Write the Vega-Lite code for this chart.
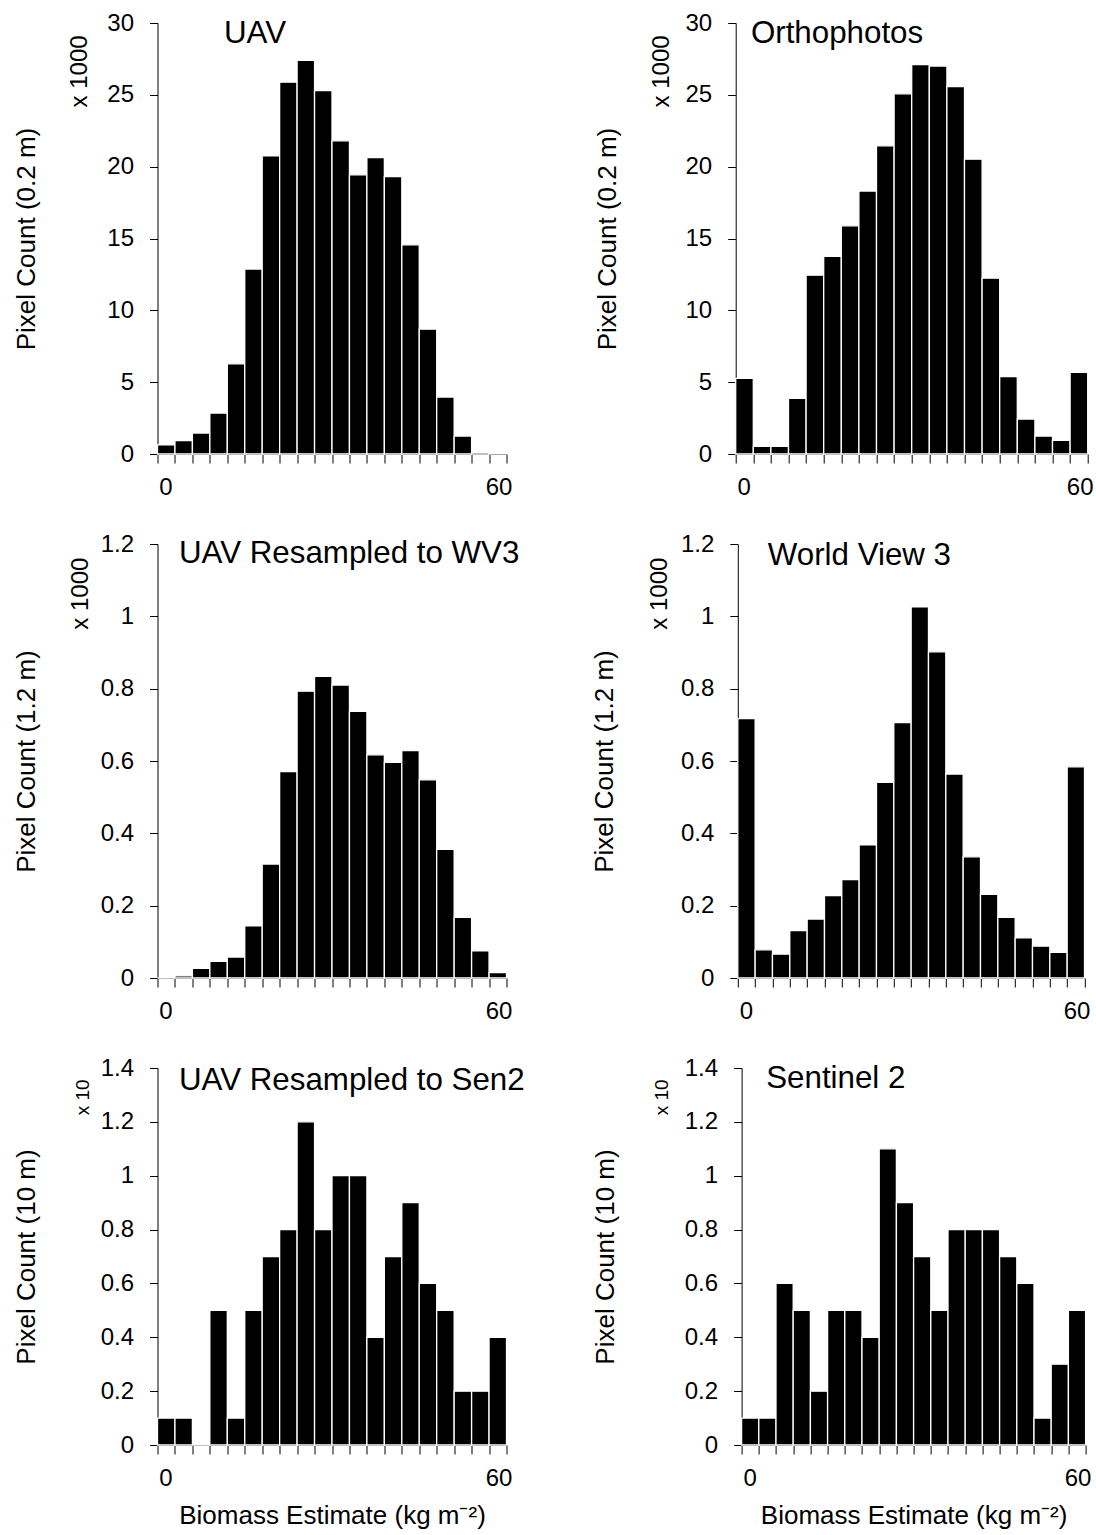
{
  "$schema": "https://vega.github.io/schema/vega-lite/v6.json",
  "padding": {"left": 12.5, "top": 11, "right": 4, "bottom": 7},
  "datasets": {
    "uav": [
      {"b0": 0, "b1": 3, "n": 0.63}, {"b0": 3, "b1": 6, "n": 0.93}, {"b0": 6, "b1": 9, "n": 1.46}, {"b0": 9, "b1": 12, "n": 2.85},
      {"b0": 12, "b1": 15, "n": 6.28}, {"b0": 15, "b1": 18, "n": 12.87}, {"b0": 18, "b1": 21, "n": 20.75}, {"b0": 21, "b1": 24, "n": 25.88},
      {"b0": 24, "b1": 27, "n": 27.4}, {"b0": 27, "b1": 30, "n": 25.3}, {"b0": 30, "b1": 33, "n": 21.8}, {"b0": 33, "b1": 36, "n": 19.43},
      {"b0": 36, "b1": 39, "n": 20.63}, {"b0": 39, "b1": 42, "n": 19.31}, {"b0": 42, "b1": 45, "n": 14.56}, {"b0": 45, "b1": 48, "n": 8.69},
      {"b0": 48, "b1": 51, "n": 3.96}, {"b0": 51, "b1": 54, "n": 1.25}, {"b0": 54, "b1": 57, "n": 0.12}, {"b0": 57, "b1": 60, "n": 0.03}
    ],
    "ortho": [
      {"b0": 0, "b1": 3, "n": 5.27}, {"b0": 3, "b1": 6, "n": 0.53}, {"b0": 6, "b1": 9, "n": 0.53}, {"b0": 9, "b1": 12, "n": 3.87},
      {"b0": 12, "b1": 15, "n": 12.45}, {"b0": 15, "b1": 18, "n": 13.75}, {"b0": 18, "b1": 21, "n": 15.88}, {"b0": 21, "b1": 24, "n": 18.3},
      {"b0": 24, "b1": 27, "n": 21.45}, {"b0": 27, "b1": 30, "n": 25.07}, {"b0": 30, "b1": 33, "n": 27.1}, {"b0": 33, "b1": 36, "n": 27.0},
      {"b0": 36, "b1": 39, "n": 25.57}, {"b0": 39, "b1": 42, "n": 20.52}, {"b0": 42, "b1": 45, "n": 12.24}, {"b0": 45, "b1": 48, "n": 5.38},
      {"b0": 48, "b1": 51, "n": 2.43}, {"b0": 51, "b1": 54, "n": 1.25}, {"b0": 54, "b1": 57, "n": 0.95}, {"b0": 57, "b1": 60, "n": 5.68}
    ],
    "uavwv3": [
      {"b0": 0, "b1": 3, "n": 0.0}, {"b0": 3, "b1": 6, "n": 0.006}, {"b0": 6, "b1": 9, "n": 0.027}, {"b0": 9, "b1": 12, "n": 0.046},
      {"b0": 12, "b1": 15, "n": 0.058}, {"b0": 15, "b1": 18, "n": 0.144}, {"b0": 18, "b1": 21, "n": 0.315}, {"b0": 21, "b1": 24, "n": 0.571},
      {"b0": 24, "b1": 27, "n": 0.793}, {"b0": 27, "b1": 30, "n": 0.834}, {"b0": 30, "b1": 33, "n": 0.81}, {"b0": 33, "b1": 36, "n": 0.737},
      {"b0": 36, "b1": 39, "n": 0.617}, {"b0": 39, "b1": 42, "n": 0.596}, {"b0": 42, "b1": 45, "n": 0.629}, {"b0": 45, "b1": 48, "n": 0.548},
      {"b0": 48, "b1": 51, "n": 0.356}, {"b0": 51, "b1": 54, "n": 0.168}, {"b0": 54, "b1": 57, "n": 0.075}, {"b0": 57, "b1": 60, "n": 0.015}
    ],
    "wv3": [
      {"b0": 0, "b1": 3, "n": 0.717}, {"b0": 3, "b1": 6, "n": 0.078}, {"b0": 6, "b1": 9, "n": 0.066}, {"b0": 9, "b1": 12, "n": 0.131},
      {"b0": 12, "b1": 15, "n": 0.163}, {"b0": 15, "b1": 18, "n": 0.228}, {"b0": 18, "b1": 21, "n": 0.272}, {"b0": 21, "b1": 24, "n": 0.368},
      {"b0": 24, "b1": 27, "n": 0.541}, {"b0": 27, "b1": 30, "n": 0.706}, {"b0": 30, "b1": 33, "n": 1.026}, {"b0": 33, "b1": 36, "n": 0.902},
      {"b0": 36, "b1": 39, "n": 0.564}, {"b0": 39, "b1": 42, "n": 0.335}, {"b0": 42, "b1": 45, "n": 0.231}, {"b0": 45, "b1": 48, "n": 0.168},
      {"b0": 48, "b1": 51, "n": 0.111}, {"b0": 51, "b1": 54, "n": 0.088}, {"b0": 54, "b1": 57, "n": 0.071}, {"b0": 57, "b1": 60, "n": 0.584}
    ],
    "uavsen2": [
      {"b0": 0, "b1": 3, "n": 0.1}, {"b0": 3, "b1": 6, "n": 0.1}, {"b0": 6, "b1": 9, "n": 0}, {"b0": 9, "b1": 12, "n": 0.5},
      {"b0": 12, "b1": 15, "n": 0.1}, {"b0": 15, "b1": 18, "n": 0.5}, {"b0": 18, "b1": 21, "n": 0.7}, {"b0": 21, "b1": 24, "n": 0.8},
      {"b0": 24, "b1": 27, "n": 1.2}, {"b0": 27, "b1": 30, "n": 0.8}, {"b0": 30, "b1": 33, "n": 1.0}, {"b0": 33, "b1": 36, "n": 1.0},
      {"b0": 36, "b1": 39, "n": 0.4}, {"b0": 39, "b1": 42, "n": 0.7}, {"b0": 42, "b1": 45, "n": 0.9}, {"b0": 45, "b1": 48, "n": 0.6},
      {"b0": 48, "b1": 51, "n": 0.5}, {"b0": 51, "b1": 54, "n": 0.2}, {"b0": 54, "b1": 57, "n": 0.2}, {"b0": 57, "b1": 60, "n": 0.4}
    ],
    "sen2": [
      {"b0": 0, "b1": 3, "n": 0.1}, {"b0": 3, "b1": 6, "n": 0.1}, {"b0": 6, "b1": 9, "n": 0.6}, {"b0": 9, "b1": 12, "n": 0.5},
      {"b0": 12, "b1": 15, "n": 0.2}, {"b0": 15, "b1": 18, "n": 0.5}, {"b0": 18, "b1": 21, "n": 0.5}, {"b0": 21, "b1": 24, "n": 0.4},
      {"b0": 24, "b1": 27, "n": 1.1}, {"b0": 27, "b1": 30, "n": 0.9}, {"b0": 30, "b1": 33, "n": 0.7}, {"b0": 33, "b1": 36, "n": 0.5},
      {"b0": 36, "b1": 39, "n": 0.8}, {"b0": 39, "b1": 42, "n": 0.8}, {"b0": 42, "b1": 45, "n": 0.8}, {"b0": 45, "b1": 48, "n": 0.7},
      {"b0": 48, "b1": 51, "n": 0.6}, {"b0": 51, "b1": 54, "n": 0.1}, {"b0": 54, "b1": 57, "n": 0.3}, {"b0": 57, "b1": 60, "n": 0.5}
    ],
    "info_uav": [{"title": "UAV", "mult": "x 1000"}],
    "info_ortho": [{"title": "Orthophotos", "mult": "x 1000"}],
    "info_uavwv3": [{"title": "UAV Resampled to WV3", "mult": "x 1000"}],
    "info_wv3": [{"title": "World View 3", "mult": "x 1000"}],
    "info_uavsen2": [{"title": "UAV Resampled to Sen2", "mult": "x 10"}],
    "info_sen2": [{"title": "Sentinel 2", "mult": "x 10"}]
  },
  "columns": 1,
  "align": "each",
  "spacing": 33,
  "concat": [
    {
      "spacing": 81.2,
      "hconcat": [
        {
          "width": 349, "height": 431,
          "layer": [
            {"data": {"name": "uav"}, "mark": {"type": "bar", "fill": "black", "stroke": "white", "strokeWidth": 1.3},
             "encoding": {
               "x": {"field": "b0", "type": "quantitative", "scale": {"domain": [0, 60], "nice": false, "zero": false},
                     "axis": {"values": [0,3,6,9,12,15,18,21,24,27,30,33,36,39,42,45,48,51,54,57,60], "tickCount": 40, "labelExpr": "datum.value == 0 || datum.value == 60 ? datum.label : ''", "labelFlush": false, "labelOverlap": false, "labelAlign": "center", "labelOffset": {"condition": {"test": "datum.value == 0", "value": 8}, "value": -8}, "labelPadding": 12, "tickSize": 9, "title": null}},
               "x2": {"field": "b1"},
               "y": {"field": "n", "type": "quantitative", "scale": {"domain": [0, 30], "nice": false},
                     "axis": {"values": [0,5,10,15,20,25,30], "tickCount": 20, "format": "~g", "title": "Pixel Count (0.2 m)", "titleX": -131.5, "titleBaseline": "middle", "labelPadding": 16, "tickSize": 8}},
               "y2": {"datum": 0}
             }},
            {"data": {"name": "info_uav"}, "mark": {"type": "text", "align": "left", "baseline": "middle", "fontSize": 31.3},
             "encoding": {"x": {"datum": 11.43, "type": "quantitative"}, "y": {"datum": 29.25, "type": "quantitative"}, "text": {"field": "title"}}},
            {"data": {"name": "info_uav"}, "mark": {"type": "text", "align": "center", "baseline": "middle", "angle": 270, "fontSize": 24},
             "encoding": {"x": {"datum": -13.24, "type": "quantitative"}, "y": {"datum": 26.63, "type": "quantitative"}, "text": {"field": "mult"}}}
          ]
        },
        {
          "width": 352, "height": 431,
          "layer": [
            {"data": {"name": "ortho"}, "mark": {"type": "bar", "fill": "black", "stroke": "white", "strokeWidth": 1.3},
             "encoding": {
               "x": {"field": "b0", "type": "quantitative", "scale": {"domain": [0, 60], "nice": false, "zero": false},
                     "axis": {"values": [0,3,6,9,12,15,18,21,24,27,30,33,36,39,42,45,48,51,54,57,60], "tickCount": 40, "labelExpr": "datum.value == 0 || datum.value == 60 ? datum.label : ''", "labelFlush": false, "labelOverlap": false, "labelAlign": "center", "labelOffset": {"condition": {"test": "datum.value == 0", "value": 8}, "value": -8}, "labelPadding": 12, "tickSize": 9, "title": null}},
               "x2": {"field": "b1"},
               "y": {"field": "n", "type": "quantitative", "scale": {"domain": [0, 30], "nice": false},
                     "axis": {"values": [0,5,10,15,20,25,30], "tickCount": 20, "format": "~g", "title": "Pixel Count (0.2 m)", "titleX": -128.5, "titleBaseline": "middle", "labelPadding": 16, "tickSize": 8}},
               "y2": {"datum": 0}
             }},
            {"data": {"name": "info_ortho"}, "mark": {"type": "text", "align": "left", "baseline": "middle", "fontSize": 31.3},
             "encoding": {"x": {"datum": 2.59, "type": "quantitative"}, "y": {"datum": 29.25, "type": "quantitative"}, "text": {"field": "title"}}},
            {"data": {"name": "info_ortho"}, "mark": {"type": "text", "align": "center", "baseline": "middle", "angle": 270, "fontSize": 24},
             "encoding": {"x": {"datum": -12.61, "type": "quantitative"}, "y": {"datum": 26.63, "type": "quantitative"}, "text": {"field": "mult"}}}
          ]
        }
      ]
    },
    {
      "spacing": 71.3,
      "hconcat": [
        {
          "width": 349, "height": 434,
          "layer": [
            {"data": {"name": "uavwv3"}, "mark": {"type": "bar", "fill": "black", "stroke": "white", "strokeWidth": 1.3},
             "encoding": {
               "x": {"field": "b0", "type": "quantitative", "scale": {"domain": [0, 60], "nice": false, "zero": false},
                     "axis": {"values": [0,3,6,9,12,15,18,21,24,27,30,33,36,39,42,45,48,51,54,57,60], "tickCount": 40, "labelExpr": "datum.value == 0 || datum.value == 60 ? datum.label : ''", "labelFlush": false, "labelOverlap": false, "labelAlign": "center", "labelOffset": {"condition": {"test": "datum.value == 0", "value": 8}, "value": -8}, "labelPadding": 12, "tickSize": 9, "title": null}},
               "x2": {"field": "b1"},
               "y": {"field": "n", "type": "quantitative", "scale": {"domain": [0, 1.2], "nice": false},
                     "axis": {"values": [0,0.2,0.4,0.6,0.8,1,1.2], "tickCount": 20, "format": "~g", "title": "Pixel Count (1.2 m)", "titleX": -131.5, "titleBaseline": "middle", "labelPadding": 16, "tickSize": 8}},
               "y2": {"datum": 0}
             }},
            {"data": {"name": "info_uavwv3"}, "mark": {"type": "text", "align": "left", "baseline": "middle", "fontSize": 31.3},
             "encoding": {"x": {"datum": 3.7, "type": "quantitative"}, "y": {"datum": 1.171, "type": "quantitative"}, "text": {"field": "title"}}},
            {"data": {"name": "info_uavwv3"}, "mark": {"type": "text", "align": "center", "baseline": "middle", "angle": 270, "fontSize": 24},
             "encoding": {"x": {"datum": -13.15, "type": "quantitative"}, "y": {"datum": 1.0626, "type": "quantitative"}, "text": {"field": "mult"}}}
          ]
        },
        {
          "width": 346.7, "height": 434,
          "layer": [
            {"data": {"name": "wv3"}, "mark": {"type": "bar", "fill": "black", "stroke": "white", "strokeWidth": 1.3},
             "encoding": {
               "x": {"field": "b0", "type": "quantitative", "scale": {"domain": [0, 60], "nice": false, "zero": false},
                     "axis": {"values": [0,3,6,9,12,15,18,21,24,27,30,33,36,39,42,45,48,51,54,57,60], "tickCount": 40, "labelExpr": "datum.value == 0 || datum.value == 60 ? datum.label : ''", "labelFlush": false, "labelOverlap": false, "labelAlign": "center", "labelOffset": {"condition": {"test": "datum.value == 0", "value": 8}, "value": -8}, "labelPadding": 12, "tickSize": 9, "title": null}},
               "x2": {"field": "b1"},
               "y": {"field": "n", "type": "quantitative", "scale": {"domain": [0, 1.2], "nice": false},
                     "axis": {"values": [0,0.2,0.4,0.6,0.8,1,1.2], "tickCount": 20, "format": "~g", "title": "Pixel Count (1.2 m)", "titleX": -133.8, "titleBaseline": "middle", "labelPadding": 16, "tickSize": 8}},
               "y2": {"datum": 0}
             }},
            {"data": {"name": "info_wv3"}, "mark": {"type": "text", "align": "left", "baseline": "middle", "fontSize": 31.3},
             "encoding": {"x": {"datum": 5.19, "type": "quantitative"}, "y": {"datum": 1.168, "type": "quantitative"}, "text": {"field": "title"}}},
            {"data": {"name": "info_wv3"}, "mark": {"type": "text", "align": "center", "baseline": "middle", "angle": 270, "fontSize": 24},
             "encoding": {"x": {"datum": -13.5, "type": "quantitative"}, "y": {"datum": 1.0626, "type": "quantitative"}, "text": {"field": "mult"}}}
          ]
        }
      ]
    },
    {
      "spacing": 66.1,
      "hconcat": [
        {
          "width": 349, "height": 377,
          "layer": [
            {"data": {"name": "uavsen2"}, "mark": {"type": "bar", "fill": "black", "stroke": "white", "strokeWidth": 1.3},
             "encoding": {
               "x": {"field": "b0", "type": "quantitative", "scale": {"domain": [0, 60], "nice": false, "zero": false},
                     "axis": {"values": [0,3,6,9,12,15,18,21,24,27,30,33,36,39,42,45,48,51,54,57,60], "tickCount": 40, "labelExpr": "datum.value == 0 || datum.value == 60 ? datum.label : ''", "labelFlush": false, "labelOverlap": false, "labelAlign": "center", "labelOffset": {"condition": {"test": "datum.value == 0", "value": 8}, "value": -8}, "labelPadding": 12, "tickSize": 9, "title": "Biomass Estimate (kg m⁻²)", "titleY": 70, "titleBaseline": "middle"}},
               "x2": {"field": "b1"},
               "y": {"field": "n", "type": "quantitative", "scale": {"domain": [0, 1.4], "nice": false},
                     "axis": {"values": [0,0.2,0.4,0.6,0.8,1,1.2,1.4], "tickCount": 20, "format": "~g", "title": "Pixel Count (10 m)", "titleX": -131.5, "titleBaseline": "middle", "labelPadding": 16, "tickSize": 8}},
               "y2": {"datum": 0}
             }},
            {"data": {"name": "info_uavsen2"}, "mark": {"type": "text", "align": "left", "baseline": "middle", "fontSize": 31.3},
             "encoding": {"x": {"datum": 3.7, "type": "quantitative"}, "y": {"datum": 1.352, "type": "quantitative"}, "text": {"field": "title"}}},
            {"data": {"name": "info_uavsen2"}, "mark": {"type": "text", "align": "center", "baseline": "middle", "angle": 270, "fontSize": 19},
             "encoding": {"x": {"datum": -12.89, "type": "quantitative"}, "y": {"datum": 1.291, "type": "quantitative"}, "text": {"field": "mult"}}}
          ]
        },
        {
          "width": 344, "height": 377,
          "layer": [
            {"data": {"name": "sen2"}, "mark": {"type": "bar", "fill": "black", "stroke": "white", "strokeWidth": 1.3},
             "encoding": {
               "x": {"field": "b0", "type": "quantitative", "scale": {"domain": [0, 60], "nice": false, "zero": false},
                     "axis": {"values": [0,3,6,9,12,15,18,21,24,27,30,33,36,39,42,45,48,51,54,57,60], "tickCount": 40, "labelExpr": "datum.value == 0 || datum.value == 60 ? datum.label : ''", "labelFlush": false, "labelOverlap": false, "labelAlign": "center", "labelOffset": {"condition": {"test": "datum.value == 0", "value": 8}, "value": -8}, "labelPadding": 12, "tickSize": 9, "title": "Biomass Estimate (kg m⁻²)", "titleY": 70, "titleBaseline": "middle"}},
               "x2": {"field": "b1"},
               "y": {"field": "n", "type": "quantitative", "scale": {"domain": [0, 1.4], "nice": false},
                     "axis": {"values": [0,0.2,0.4,0.6,0.8,1,1.2,1.4], "tickCount": 20, "format": "~g", "title": "Pixel Count (10 m)", "titleX": -136.5, "titleBaseline": "middle", "labelPadding": 16, "tickSize": 8}},
               "y2": {"datum": 0}
             }},
            {"data": {"name": "info_sen2"}, "mark": {"type": "text", "align": "left", "baseline": "middle", "fontSize": 31.3},
             "encoding": {"x": {"datum": 4.29, "type": "quantitative"}, "y": {"datum": 1.359, "type": "quantitative"}, "text": {"field": "title"}}},
            {"data": {"name": "info_sen2"}, "mark": {"type": "text", "align": "center", "baseline": "middle", "angle": 270, "fontSize": 19},
             "encoding": {"x": {"datum": -13.87, "type": "quantitative"}, "y": {"datum": 1.291, "type": "quantitative"}, "text": {"field": "mult"}}}
          ]
        }
      ]
    }
  ],
  "config": {
    "font": "Liberation Sans",
    "view": {"stroke": null},
    "text": {"font": "Liberation Sans", "color": "black"},
    "axis": {
      "grid": false,
      "domainColor": "black", "domainWidth": 1,
      "tickColor": "black", "tickWidth": 1,
      "labelColor": "black", "labelFont": "Liberation Sans", "labelFontSize": 24,
      "titleColor": "black", "titleFont": "Liberation Sans", "titleFontSize": 26, "titleFontWeight": "normal",
      "zindex": 1
    }
  }
}
